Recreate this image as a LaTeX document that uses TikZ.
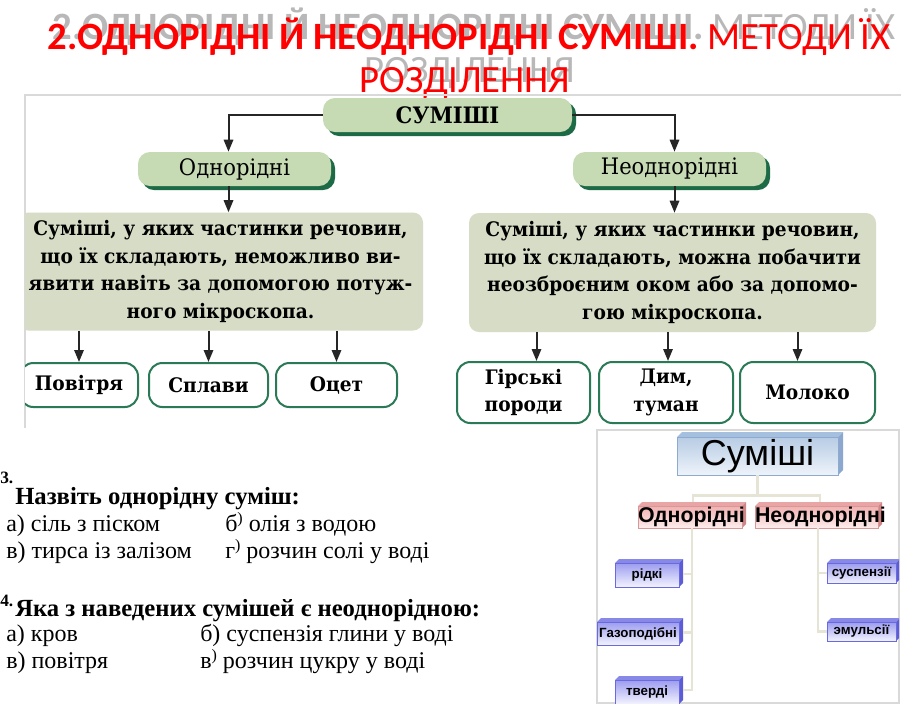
\documentclass[tikz,border=0pt]{standalone}
\usepackage{fontspec}
\setmainfont{Liberation Serif}
\newfontfamily\ttlfont{Carlito}
\newfontfamily\schfont[FakeStretch=0.93]{DejaVu Serif}
\newfontfamily\arfont{Liberation Sans}
\usetikzlibrary{arrows.meta,calc,shadows}
\definecolor{pillfill}{HTML}{C6DBB4}
\definecolor{pillsh}{HTML}{1D6B46}
\definecolor{boxfill}{HTML}{D6DCC5}
\definecolor{boxedge}{HTML}{2B7A57}
\definecolor{arrcol}{HTML}{262626}
\definecolor{framecol}{HTML}{D9D9D9}
\definecolor{conncol}{HTML}{E6E4D4}
\definecolor{titlered}{HTML}{FF0000}
\definecolor{titlegrey}{HTML}{B8B8B8}
\definecolor{bluetopc}{HTML}{9C9CF0}
\definecolor{bluebotc}{HTML}{F3F3FF}
\definecolor{blueedge}{HTML}{6A6AE0}
\definecolor{bluebev}{HTML}{8888E6}
\definecolor{blueside}{HTML}{5C5CD6}
\definecolor{pinktopc}{HTML}{F2B0B0}
\definecolor{pinkbotc}{HTML}{FDEDED}
\definecolor{pinkedge}{HTML}{D89898}
\definecolor{pinkbev}{HTML}{E9A5A5}
\definecolor{pinkside}{HTML}{D08686}
\definecolor{lbtopc}{HTML}{B7CCE4}
\definecolor{lbbotc}{HTML}{EEF3FA}
\definecolor{lbedge}{HTML}{8EAAD0}
\definecolor{lbbev}{HTML}{A5BFDF}
\definecolor{lbside}{HTML}{8CA8CE}
\tikzset{
  wh/.style 2 args={minimum width=#1*0.75pt, minimum height=#2*0.75pt},
  pill/.style={fill=pillfill, rounded corners=9pt, inner sep=0pt,
    font=\schfont\fontsize{17}{20}\selectfont,
    copy shadow={shadow xshift=3pt, shadow yshift=-3pt, fill=pillsh, draw=none}},
  descbox/.style={fill=boxfill, rounded corners=7.5pt, inner sep=0pt, align=center,
    font=\schfont\bfseries\fontsize{15}{20.6}\selectfont},
  leaf/.style={draw=boxedge, line width=1.5pt, fill=white, rounded corners=10pt,
    inner sep=0pt, align=center, font=\schfont\bfseries\fontsize{15}{20.6}\selectfont},
  arr/.style={draw=arrcol, line width=1.5pt, -{Triangle[length=9pt,width=7pt]}},
  lc/.style={draw=conncol, line width=2.2pt},
  bluetop/.style={fill=bluebev}, blueside/.style={fill=blueside},
  blueface/.style={top color=bluetopc, bottom color=bluebotc, draw=blueedge, line width=0.6pt},
  pinktop/.style={fill=pinkbev}, pinkside/.style={fill=pinkside},
  pinkface/.style={top color=pinktopc, bottom color=pinkbotc, draw=pinkedge, line width=0.6pt},
  lbtop/.style={fill=lbbev}, lbside/.style={fill=lbside},
  lbface/.style={top color=lbtopc, bottom color=lbbotc, draw=lbedge, line width=0.6pt},
  qt/.style={anchor=base west, inner sep=0pt, font=\fontsize{18}{21}\selectfont},
  qh/.style={anchor=base west, inner sep=0pt, font=\bfseries\fontsize{18.5}{22}\selectfont},
  qn/.style={anchor=base west, inner sep=0pt, font=\bfseries\fontsize{13}{15}\selectfont},
}
\newcommand\tdbox[9]{%
  \fill[#7top] (#2,#3) -- (#2+#6,#3-#6) -- (#4+#6,#3-#6) -- (#4,#3) -- cycle;
  \fill[#7side] (#4,#3) -- (#4+#6,#3-#6) -- (#4+#6,#5-#6) -- (#4,#5) -- cycle;
  \pgfmathsetmacro\tdw{(#4-#2)*0.75}%
  \pgfmathsetmacro\tdh{(#5-#3)*0.75}%
  \node[#7face, inner sep=0pt, text width=\tdw pt, align=center, minimum height=\tdh pt, font=#8]
    (#1) at ({(#2+#4)/2},{(#3+#5)/2}) {#9};}
\newcommand\rparup{\raisebox{0.3em}{\fontsize{12}{12}\selectfont )}}
\begin{document}
\begin{tikzpicture}[x=0.75pt,y=-0.75pt]
\useasboundingbox (0,0) rectangle (919,708);
\fill[white] (0,0) rectangle (919,708);
% ---- title
\begin{scope}[every node/.style={anchor=base, inner sep=0pt, font=\ttlfont\fontsize{29}{34}\selectfont}]
\node[text=titlegrey] (t1s) at (474,39) {\bfseries 2.ОДНОРІДНІ Й НЕОДНОРІДНІ СУМІШІ. \mdseries МЕТОДИ ЇХ};
\node[text=titlered] (t1) at (469,49) {\bfseries 2.ОДНОРІДНІ Й НЕОДНОРІДНІ СУМІШІ. \mdseries МЕТОДИ ЇХ};
\node[text=titlegrey] (t2s) at (470,82) {РОЗДІЛЕННЯ};
\node[text=titlered] (t2) at (465,92) {РОЗДІЛЕННЯ};
\end{scope}
% ---- top scheme
\draw[framecol, line width=0.8pt] (25,428) -- (25,95) -- (901,95);
\begin{scope}
\clip (25,95) rectangle (901,428);
\node[pill, wh={249}{34}, font=\schfont\bfseries\fontsize{17}{20}\selectfont] (sum) at (447.5,115) {СУМІШІ};
\node[pill, wh={193}{34}] (odn) at (234.5,169) {Однорідні};
\node[pill, wh={193}{34}] (neod) at (669.5,169) {Неоднорідні};
\node[descbox, wh={405}{118}] (lbox) at (220.5,271.5)
  {Суміші, у яких частинки речовин,\\ що їх складають, неможливо ви-\\ явити навіть за допомогою потуж-\\ ного мікроскопа.};
\node[descbox, wh={407}{119}] (rbox) at (672.5,272.5)
  {Суміші, у яких частинки речовин,\\ що їх складають, можна побачити\\ неозброєним оком або за допомо-\\ гою мікроскопа.};
\node[leaf, wh={118}{44}] (pov) at (79,385) {Повітря};
\node[leaf, wh={119}{44}] (spl) at (208.5,385) {Сплави};
\node[leaf, wh={121}{44}] (oct) at (336.5,385) {Оцет};
\node[leaf, wh={133}{61}] (gir) at (523.5,392.5) {Гірські\\породи};
\node[leaf, wh={134}{61}] (dym) at (666,392.5) {Дим,\\туман};
\node[leaf, wh={135}{61}] (mol) at (807.5,392.5) {Молоко};
\draw[arr] (sum.west) -| ($(odn.north)+(-6,0)$);
\draw[arr] (sum.east) -| ($(neod.north)+(5,0)$);
\coordinate (oa) at ($(odn.south)+(-6,0)$);
\coordinate (na) at ($(neod.south)+(5,0)$);
\draw[arr] (oa) -- (oa |- lbox.north);
\draw[arr] (na) -- (na |- rbox.north);
\draw[arr] (pov.north |- lbox.south) -- (pov.north);
\draw[arr] (spl.north |- lbox.south) -- (spl.north);
\draw[arr] (oct.north |- lbox.south) -- (oct.north);
\coordinate (ga) at ($(gir.north)+(13,0)$);
\coordinate (da) at ($(dym.north)+(2,0)$);
\coordinate (ma) at ($(mol.north)+(-10,0)$);
\draw[arr] (ga |- rbox.south) -- (ga);
\draw[arr] (da |- rbox.south) -- (da);
\draw[arr] (ma |- rbox.south) -- (ma);
\end{scope}
% ---- small scheme
\draw[framecol, line width=0.8pt] (597,430) rectangle (899,703);
\begin{scope}
\clip (597,430) rectangle (899,703);
\tdbox{sumB}{677}{437}{838}{475}{5}{lb}{\arfont\fontsize{27}{30}\selectfont}{Суміші}
\tdbox{odnB}{638}{506}{742}{528}{4}{pink}{\arfont\bfseries\fontsize{16}{18}\selectfont}{Однорідні}
\tdbox{neodB}{755}{506}{878}{528}{4}{pink}{\arfont\bfseries\fontsize{16}{18}\selectfont}{Неоднорідні}
\tdbox{ridki}{615}{563}{679}{587}{4}{blue}{\arfont\bfseries\fontsize{10}{12}\selectfont}{рідкі}
\tdbox{gaz}{597}{622}{679}{645}{4}{blue}{\arfont\bfseries\fontsize{10}{12}\selectfont}{Газоподібні}
\tdbox{tver}{615}{680}{679}{704}{4}{blue}{\arfont\bfseries\fontsize{10}{12}\selectfont}{тверді}
\tdbox{susp}{827}{563}{896}{583}{4}{blue}{\arfont\bfseries\fontsize{10}{12}\selectfont}{суспензії}
\tdbox{emul}{827}{622}{896}{641}{4}{blue}{\arfont\bfseries\fontsize{10}{12}\selectfont}{эмульсії}
\draw[lc] (sumB.south) -- ++(0,20) coordinate (jn);
\draw[lc] ($(odnB.north)+(3,-4)$) |- (jn) -| ($(neodB.north)+(3.5,-4)$);
\coordinate (lv) at ($(odnB.south)+(2,0)$);
\coordinate (rv) at ($(neodB.south)+(1.5,0)$);
\coordinate (rk) at ($(ridki.east)+(4,-1)$);
\coordinate (gk) at ($(gaz.east)+(4,-1)$);
\draw[lc] (lv) |- ($(tver.east)+(4,-2)$);
\draw[lc] (rk) -- (rk -| lv);
\draw[lc] (gk) -- (gk -| lv);
\draw[lc] (rv) |- (emul.west);
\draw[lc] (susp.west) -- (susp.west -| rv);
\end{scope}
% ---- questions
\node[qn] (n3) at (0,483) {3.};
\node[qh] (q3) at (15,504) {Назвіть однорідну суміш:};
\node[qt] (q3a) at (6,531) {а) сіль з піском};
\node[qt] (q3b) at (225,531) {б\rparup{} олія з водою};
\node[qt] (q3c) at (6,558) {в) тирса із залізом};
\node[qt] (q3d) at (225,558) {г\rparup{} розчин солі у воді};
\node[qn] (n4) at (0,606) {4.};
\node[qh] (q4) at (15,616) {Яка з наведених сумішей є неоднорідною:};
\node[qt] (q4a) at (6,641) {а) кров};
\node[qt] (q4b) at (200,641) {б) суспензія глини у воді};
\node[qt] (q4c) at (6,668) {в) повітря};
\node[qt] (q4d) at (200,668) {в\rparup{} розчин цукру у воді};
\end{tikzpicture}
\end{document}
